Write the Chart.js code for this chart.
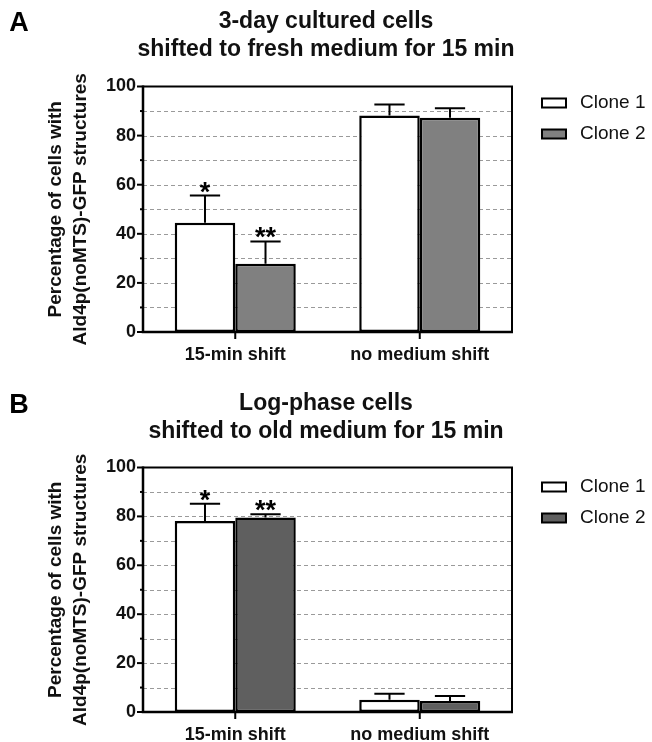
<!DOCTYPE html>
<html>
<head>
<meta charset="utf-8">
<script src="https://cdn.jsdelivr.net/npm/chart.js@4.4.0/dist/chart.umd.min.js"></script>
<style>
  body { margin: 0; background: #fff; width: 652px; height: 742px; overflow: hidden; position: relative; }
  .panel { position: absolute; left: 0; width: 652px; }
</style>
</head>
<body>
<div class="panel" style="top:0;height:372px"><canvas id="chartA"></canvas></div>
<div class="panel" style="top:372px;height:370px"><canvas id="chartB"></canvas></div>
<script>
// data
const categories = ["15-min shift", "no medium shift"];
const seriesNames = ["Clone 1", "Clone 2"];

const aClone1 = [44.5, 88.2];
const aClone1Err = [11.1, 4.5];
const aClone2 = [27.8, 87.3];
const aClone2Err = [9.1, 3.8];

const bClone1 = [78.1, 5.0];
const bClone1Err = [7.1, 2.5];
const bClone2 = [79.5, 4.5];
const bClone2Err = [1.4, 2.0];

const aMarks1 = ["*", ""];
const aMarks2 = ["**", ""];
const bMarks1 = ["*", ""];
const bMarks2 = ["**", ""];

const yTicks = [0, 20, 40, 60, 80, 100];

const FONT = "'Liberation Sans', Arial, Helvetica, sans-serif";
Chart.defaults.font.family = FONT;
Chart.defaults.color = "#111";

const decorPlugin = {
  id: "decor",
  beforeDatasetsDraw(chart) {
    const { ctx, chartArea: a, scales: { y } } = chart;
    ctx.save();
    ctx.strokeStyle = "#9a9a9a";
    ctx.lineWidth = 1;
    ctx.setLineDash([4, 3]);
    for (let v = 10; v < 100; v += 10) {
      const py = Math.round(y.getPixelForValue(v)) + 0.5;
      ctx.beginPath();
      ctx.moveTo(a.left, py);
      ctx.lineTo(a.right, py);
      ctx.stroke();
    }
    ctx.restore();
  },
  afterDatasetsDraw(chart) {
    const { ctx, chartArea: a, scales: { x, y } } = chart;
    const o = chart.options.plugins.decor;
    ctx.save();

    // error bars + significance stars
    chart.data.datasets.forEach((ds, i) => {
      const meta = chart.getDatasetMeta(i);
      meta.data.forEach((bar, j) => {
        const top = y.getPixelForValue(ds.data[j] + ds.errors[j]);
        const half = bar.width / 4;
        ctx.strokeStyle = "#000";
        ctx.lineWidth = 2;
        ctx.beginPath();
        ctx.moveTo(bar.x, bar.y);
        ctx.lineTo(bar.x, top);
        ctx.moveTo(bar.x - half, top);
        ctx.lineTo(bar.x + half, top);
        ctx.stroke();
        if (ds.marks[j]) {
          ctx.fillStyle = "#000";
          ctx.font = "bold 27px " + FONT;
          ctx.textAlign = "center";
          ctx.textBaseline = "alphabetic";
          ctx.fillText(ds.marks[j], bar.x, top + 5);
        }
      });
    });

    // frame: thin top/right, heavier axes
    ctx.strokeStyle = "#000";
    ctx.lineWidth = 2;
    ctx.beginPath();
    ctx.moveTo(a.left, a.top);
    ctx.lineTo(a.right, a.top);
    ctx.lineTo(a.right, a.bottom);
    ctx.stroke();
    ctx.lineWidth = 2.5;
    ctx.beginPath();
    ctx.moveTo(a.left, a.top - 1);
    ctx.lineTo(a.left, a.bottom);
    ctx.lineTo(a.right + 1, a.bottom);
    ctx.stroke();

    // y tick marks, major every 20, minor every 10
    ctx.lineWidth = 2;
    for (let v = 0; v <= 100; v += 10) {
      const py = y.getPixelForValue(v);
      const len = v % 20 === 0 ? 6 : 3;
      ctx.beginPath();
      ctx.moveTo(a.left - len, py);
      ctx.lineTo(a.left, py);
      ctx.stroke();
    }
    // x ticks at category centres
    categories.forEach((c, j) => {
      const px = x.getPixelForValue(j);
      ctx.beginPath();
      ctx.moveTo(px, a.bottom);
      ctx.lineTo(px, a.bottom + 7);
      ctx.stroke();
    });

    // legend
    chart.data.datasets.forEach((ds, i) => {
      const ly = o.legendY[i];
      ctx.fillStyle = ds.backgroundColor;
      ctx.fillRect(542, ly - 4.5, 24, 9);
      ctx.lineWidth = 2;
      ctx.strokeStyle = "#000";
      ctx.strokeRect(542, ly - 4.5, 24, 9);
      ctx.fillStyle = "#111";
      ctx.font = "19px " + FONT;
      ctx.textAlign = "left";
      ctx.textBaseline = "middle";
      ctx.fillText(ds.label, 580, ly);
    });

    // panel letter
    ctx.fillStyle = "#000";
    ctx.font = "bold 27px " + FONT;
    ctx.textAlign = "center";
    ctx.textBaseline = "middle";
    ctx.fillText(o.letter, 19, o.letterY);

    ctx.restore();
  },
};

function makeChart(id, p) {
  const ctx = document.getElementById(id).getContext("2d");
  return new Chart(ctx, {
    type: "bar",
    data: {
      labels: categories,
      datasets: [
        {
          label: seriesNames[0],
          data: p.d1,
          errors: p.e1,
          marks: p.m1,
          backgroundColor: "#ffffff",
          borderColor: "#000",
          borderWidth: 2.5,
          borderSkipped: false,
          categoryPercentage: 0.656,
          barPercentage: 1.0,
        },
        {
          label: seriesNames[1],
          data: p.d2,
          errors: p.e2,
          marks: p.m2,
          backgroundColor: p.color2,
          borderColor: "#000",
          borderWidth: 2.5,
          borderSkipped: false,
          categoryPercentage: 0.656,
          barPercentage: 1.0,
        },
      ],
    },
    options: {
      responsive: true,
      maintainAspectRatio: false,
      animation: false,
      layout: { padding: 0 },
      plugins: {
        legend: { display: false },
        tooltip: { enabled: false },
        title: {
          display: true,
          text: p.title,
          font: { size: 23, weight: "bold", lineHeight: 1.25 },
          color: "#111",
          padding: { top: p.titleTop, bottom: p.titleBottom },
        },
        decor: { legendY: p.legendY, letter: p.letter, letterY: p.letterY },
      },
      scales: {
        x: {
          grid: { display: false, drawTicks: false },
          border: { display: false },
          ticks: { font: { size: 18, weight: "bold" }, color: "#111", padding: 12 },
          afterFit: (s) => { s.height = p.xHeight; },
        },
        y: {
          min: 0,
          max: 100,
          grid: { display: false, drawTicks: false },
          border: { display: false },
          afterBuildTicks: (s) => { s.ticks = yTicks.map((v) => ({ value: v })); },
          ticks: { font: { size: 18, weight: "bold" }, color: "#111", padding: 7 },
          title: {
            display: true,
            text: ["Percentage of cells with", "Ald4p(noMTS)-GFP structures"],
            font: { size: 19, weight: "bold", lineHeight: 1.28 },
            color: "#111",
            padding: { top: 44, bottom: 0 },
          },
          afterFit: (s) => { s.width = 143; },
        },
        yRight: {
          position: "right",
          display: true,
          grid: { display: false, drawTicks: false },
          border: { display: false },
          ticks: { display: false },
          afterFit: (s) => { s.width = 140; },
        },
      },
    },
    plugins: [decorPlugin],
  });
}

makeChart("chartA", {
  d1: aClone1, e1: aClone1Err, m1: aMarks1,
  d2: aClone2, e2: aClone2Err, m2: aMarks2,
  color2: "#808080",
  title: ["3-day cultured cells", "shifted to fresh medium for 15 min"],
  titleTop: 7, titleBottom: 22,
  xHeight: 40,
  legendY: [103, 134],
  letter: "A", letterY: 24,
});

makeChart("chartB", {
  d1: bClone1, e1: bClone1Err, m1: bMarks1,
  d2: bClone2, e2: bClone2Err, m2: bMarks2,
  color2: "#5f5f5f",
  title: ["Log-phase cells", "shifted to old medium for 15 min"],
  titleTop: 17, titleBottom: 21,
  xHeight: 30,
  legendY: [487, 518].map((v) => v - 372),
  letter: "B", letterY: 34,
});
</script>
</body>
</html>
